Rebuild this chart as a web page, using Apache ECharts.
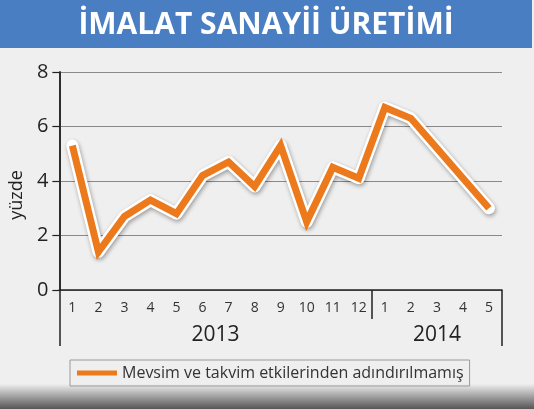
<!DOCTYPE html>
<html>
<head>
<meta charset="utf-8">
<script src="https://cdn.jsdelivr.net/npm/echarts@6/dist/echarts.min.js"></script>
<style>
  html, body { margin: 0; padding: 0; background: #efefef; }
  #main { width: 534px; height: 409px; }
</style>
</head>
<body>
<div id="main"></div>
<script>
// aylar (2013: 1-12, 2014: 1-5)
var months = ['1','2','3','4','5','6','7','8','9','10','11','12','1','2','3','4','5'];
var years = ['2013','2013','2013','2013','2013','2013','2013','2013','2013','2013','2013','2013',
             '2014','2014','2014','2014','2014'];
var values = [5.3, 1.4, 2.7, 3.3, 2.8, 4.2, 4.7, 3.8, 5.3, 2.5, 4.5, 4.1, 6.7, 6.3, 5.2, 4.1, 3.0];
var yTicks = [0, 2, 4, 6, 8];
var seriesName = 'Mevsim ve takvim etkilerinden adındırılmamış';
var title = 'İMALAT SANAYİİ ÜRETİMİ';

// yil gruplari: baslangic, bitis, orta nokta
var yearNames = [], yearStart = [], yearEnd = [];
years.forEach(function (y, i) {
    if (yearNames.length === 0 || yearNames[yearNames.length - 1] !== y) {
        yearNames.push(y); yearStart.push(i); yearEnd.push(i + 1);
    } else {
        yearEnd[yearEnd.length - 1] = i + 1;
    }
});
var yearMid = yearStart.map(function (s, i) { return (s + yearEnd[i]) / 2; });
var yearBreaks = yearStart.slice(1);

var font = '"Open Sans", "Noto Sans", sans-serif';
var myChart = echarts.init(document.getElementById('main'));

var option = {
    backgroundColor: '#efefef',
    animation: false,
    graphic: [
        { type: 'rect', shape: { x: 0, y: 0, width: 532, height: 48 }, style: { fill: '#4a7ec3' }, z: 0 },
        { type: 'text', x: 266, y: 25, style: { text: title, fill: '#fff', font: 'bold 30px ' + font, align: 'center', verticalAlign: 'middle' }, z: 1 },
        { type: 'rect', shape: { x: 0, y: 384, width: 534, height: 25 },
          style: { fill: new echarts.graphic.LinearGradient(0, 0, 0, 1, [
              { offset: 0, color: '#eeeeee' }, { offset: 1, color: '#555555' }]) }, z: 0 }
    ],
    grid: { left: 55, right: 32, top: 72, bottom: 119 },
    legend: {
        data: [seriesName],
        left: 70, top: 360,
        padding: [5, 6, 5, 7],
        borderColor: '#9a9a9a', borderWidth: 1,
        icon: 'rect', itemWidth: 40, itemHeight: 5, itemGap: 0,
        textStyle: { fontFamily: font, fontSize: 16, color: '#333' }
    },
    xAxis: [
        {
            type: 'category', data: months, boundaryGap: true,
            axisLine: { lineStyle: { color: '#222', width: 1.5 } },
            axisTick: { length: 8, lineStyle: { color: '#222', width: 1.2 } },
            axisLabel: { margin: 11, fontFamily: font, fontSize: 14, color: '#333' },
            splitLine: { show: false }
        },
        {
            type: 'value', min: 0, max: months.length, position: 'bottom',
            axisLine: { show: false },
            axisTick: { show: true, customValues: [0, months.length], length: 56, lineStyle: { color: '#222', width: 1.5 } },
            axisLabel: {
                show: true, customValues: yearMid, margin: 35,
                fontFamily: font, fontSize: 21, color: '#222',
                formatter: function (v) { return yearNames[yearMid.indexOf(v)] || ''; }
            },
            splitLine: { show: false }
        },
        {
            type: 'value', min: 0, max: months.length, position: 'bottom',
            axisLine: { show: false },
            axisTick: { show: true, customValues: yearBreaks, length: 29, lineStyle: { color: '#222', width: 1.5 } },
            axisLabel: { show: false },
            splitLine: { show: false }
        }
    ],
    yAxis: [
        {
            type: 'value', min: 0, max: 8, interval: 2,
            name: 'yüzde', nameLocation: 'middle', nameRotate: 90, nameGap: 27,
            nameTextStyle: { fontFamily: font, fontSize: 18, color: '#222', padding: [0, 28, 0, 0] },
            axisLine: { show: true, lineStyle: { color: '#222', width: 1.5 } },
            axisTick: { show: true, length: 7, lineStyle: { color: '#222', width: 1.2 } },
            axisLabel: { margin: 11, fontFamily: font, fontSize: 20, color: '#222',
                customValues: yTicks },
            splitLine: { lineStyle: { color: '#8a8a8a', width: 1.2 } }
        },
        {
            type: 'value', min: 0, max: 8, interval: 2, position: 'right',
            axisLine: { show: true, lineStyle: { color: '#222', width: 1.5 } },
            axisTick: { show: false }, axisLabel: { show: false }, splitLine: { show: false }
        }
    ],
    series: [
        {
            name: 'kontur', type: 'line', data: values, symbol: 'none', silent: true,
            lineStyle: { color: '#ffffff', width: 12, join: 'round', cap: 'round',
                shadowColor: 'rgba(0,0,0,0.35)', shadowBlur: 4, shadowOffsetX: 1, shadowOffsetY: 2 },
            z: 2
        },
        {
            name: seriesName, type: 'line', data: values, symbol: 'none',
            color: '#ec7a1c',
            lineStyle: { color: '#ec7a1c', width: 7, join: 'miter', cap: 'butt' },
            z: 3
        }
    ]
};
myChart.setOption(option);
</script>
</body>
</html>
